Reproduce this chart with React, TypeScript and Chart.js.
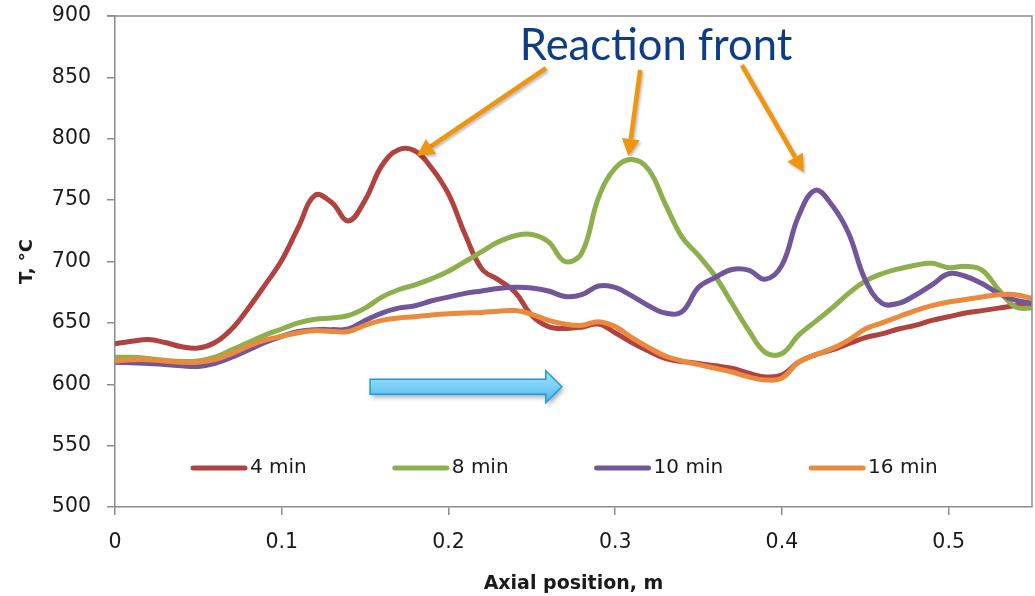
import { useEffect, useRef } from 'react';
import { Chart, registerables } from 'chart.js';

Chart.register(...registerables);

// Axial position along the reactor, m
const positions = [
  0, 0.01, 0.02, 0.03, 0.04, 0.05, 0.06, 0.07, 0.08, 0.09,
  0.1, 0.11, 0.12, 0.13, 0.14, 0.15, 0.16, 0.17, 0.18, 0.19,
  0.2, 0.21, 0.22, 0.23, 0.24, 0.25, 0.26, 0.27, 0.28, 0.29,
  0.3, 0.31, 0.32, 0.33, 0.34, 0.35, 0.36, 0.37, 0.38, 0.39,
  0.4, 0.41, 0.42, 0.43, 0.44, 0.45, 0.46, 0.47, 0.48, 0.49,
  0.5, 0.51, 0.52, 0.53, 0.54, 0.55,
];

// Bed temperature profiles, °C
const temp4min = [
  633, 635, 636.5, 634, 630.5, 629.5, 634, 645, 662, 681,
  701, 728, 754, 748, 733, 750, 778, 791, 790, 776,
  755, 722, 694, 685, 675, 656, 647, 645.5, 646.5, 649,
  642, 634, 627, 621, 618.5, 617, 615, 613, 609, 606,
  607.5, 618, 624, 628, 633, 638, 641, 645, 648, 652,
  655, 658, 660, 662, 664, 665,
];
const temp8min = [
  622, 622, 621, 619.5, 618.5, 619, 622, 628, 634, 640,
  645, 650, 653, 654, 656, 662, 671, 677, 681, 686,
  692, 700, 708, 716, 721, 722, 716, 700, 707, 752,
  776, 783, 775, 747, 720, 705, 688, 666, 644, 626,
  625, 640, 651, 662, 674, 684, 690, 694, 697, 698.5,
  695, 696, 693, 677, 663, 662,
];
const temp10min = [
  618, 617.5, 617, 616, 615, 614.5, 617, 622, 628, 634,
  639, 643, 644.5, 644.5, 645, 652, 658, 662, 664, 668,
  671, 674, 676, 678, 679, 678.5, 676, 671.5, 673, 680,
  679, 672, 664, 658, 659, 679, 687, 693.5, 693, 685.5,
  697, 737, 758, 746, 723, 685, 666, 666, 672.5, 681,
  690, 688, 682, 674, 668.5, 666,
];
const temp16min = [
  619, 620, 620, 619, 618, 618, 620, 625, 631, 636,
  639, 642, 643.5, 643, 643, 648, 652, 654, 655, 656.5,
  657.5, 658, 658.5, 659.5, 660, 657, 652, 649, 648, 651,
  647, 638, 630, 623, 619, 616, 613, 610, 606, 603.5,
  605, 618, 624, 629, 636, 645, 650, 655, 660, 664,
  667, 669, 671, 673, 673, 670,
];

const seriesNames = ['4 min', '8 min', '10 min', '16 min'];
const seriesValues = [temp4min, temp8min, temp10min, temp16min];
const seriesColors = ['#B0433F', '#8DB04C', '#71579A', '#EB8A3C'];

const yTicks = { min: 500, max: 900, step: 50 };
const xTicks = { min: 0, max: 0.55, step: 0.1 };

// Annotation anchors, in axis units (x in m, y in °C)
const labelAnchor = { x: 0.3245, y: 864, text: 'Reaction front' };
const frontArrows = [
  { from: [0.2585, 857.5], to: [0.181, 786] },
  { from: [0.315, 856], to: [0.308, 786] },
  { from: [0.376, 860], to: [0.413, 773] },
];
const flowArrow = { from: [0.153, 598], to: [0.268, 598] };

const TEXT = '#1a1a1a';
const AXIS = '#8c8c8c';

function drawOrangeArrow(ctx: CanvasRenderingContext2D, x0: number, y0: number, x1: number, y1: number) {
  const ang = Math.atan2(y1 - y0, x1 - x0);
  const headLen = 17;
  const headHalf = 9;
  const bx = x1 - headLen * Math.cos(ang);
  const by = y1 - headLen * Math.sin(ang);
  ctx.save();
  ctx.shadowColor = 'rgba(0,0,0,0.28)';
  ctx.shadowBlur = 3;
  ctx.shadowOffsetX = 1.5;
  ctx.shadowOffsetY = 2;
  ctx.strokeStyle = '#F0950E';
  ctx.fillStyle = '#F0950E';
  ctx.lineWidth = 4.5;
  ctx.lineCap = 'butt';
  ctx.beginPath();
  ctx.moveTo(x0, y0);
  ctx.lineTo(bx, by);
  ctx.stroke();
  ctx.beginPath();
  ctx.moveTo(x1, y1);
  ctx.lineTo(bx + headHalf * Math.sin(ang), by - headHalf * Math.cos(ang));
  ctx.lineTo(bx - headHalf * Math.sin(ang), by + headHalf * Math.cos(ang));
  ctx.closePath();
  ctx.fill();
  ctx.restore();
}

function drawBlockArrow(ctx: CanvasRenderingContext2D, x0: number, yc: number, x1: number) {
  const bodyHalf = 7.5;
  const headHalf = 16;
  const headLen = 16;
  const hx = x1 - headLen;
  ctx.save();
  ctx.beginPath();
  ctx.moveTo(x0, yc - bodyHalf);
  ctx.lineTo(hx, yc - bodyHalf);
  ctx.lineTo(hx, yc - headHalf);
  ctx.lineTo(x1, yc);
  ctx.lineTo(hx, yc + headHalf);
  ctx.lineTo(hx, yc + bodyHalf);
  ctx.lineTo(x0, yc + bodyHalf);
  ctx.closePath();
  const g = ctx.createLinearGradient(0, yc - headHalf, 0, yc + headHalf);
  g.addColorStop(0, '#A6E0FC');
  g.addColorStop(0.5, '#7CCFF8');
  g.addColorStop(1, '#45B6EE');
  ctx.shadowColor = 'rgba(0,0,0,0.35)';
  ctx.shadowBlur = 5;
  ctx.shadowOffsetX = 2;
  ctx.shadowOffsetY = 3;
  ctx.fillStyle = g;
  ctx.fill();
  ctx.shadowColor = 'transparent';
  ctx.lineWidth = 1.5;
  ctx.strokeStyle = '#1E9CDA';
  ctx.stroke();
  ctx.restore();
}

const decorations = {
  id: 'decorations',
  afterDraw(chart: any) {
    const { ctx, chartArea, scales } = chart;
    const sx = scales.x;
    const sy = scales.y;

    // frame: top and right edges of the plot area
    ctx.save();
    ctx.strokeStyle = AXIS;
    ctx.lineWidth = 1.5;
    ctx.beginPath();
    ctx.moveTo(chartArea.left - 8, chartArea.top);
    ctx.lineTo(chartArea.right, chartArea.top);
    ctx.lineTo(chartArea.right, chartArea.bottom);
    ctx.stroke();
    ctx.restore();

    // legend inside the plot area
    ctx.save();
    ctx.font = '20px "DejaVu Sans"';
    ctx.textBaseline = 'middle';
    ctx.textAlign = 'left';
    const ly = chartArea.bottom - 39;
    let lx = chartArea.left + 78;
    seriesNames.forEach((name, i) => {
      ctx.strokeStyle = seriesColors[i];
      ctx.lineWidth = 5;
      ctx.lineCap = 'round';
      ctx.beginPath();
      ctx.moveTo(lx, ly);
      ctx.lineTo(lx + 52, ly);
      ctx.stroke();
      ctx.fillStyle = TEXT;
      ctx.fillText(name, lx + 57, ly);
      lx += 57 + ctx.measureText(name).width + 88;
    });
    ctx.restore();

    // flow direction arrow
    drawBlockArrow(
      ctx,
      sx.getPixelForValue(flowArrow.from[0]),
      sy.getPixelForValue(flowArrow.from[1]),
      sx.getPixelForValue(flowArrow.to[0]),
    );

    // reaction front label and pointers
    ctx.save();
    ctx.font = '43.5px Lato';
    ctx.fillStyle = '#0E3D86';
    ctx.textAlign = 'center';
    ctx.textBaseline = 'alphabetic';
    ctx.fillText(labelAnchor.text, sx.getPixelForValue(labelAnchor.x), sy.getPixelForValue(labelAnchor.y));
    ctx.restore();
    frontArrows.forEach((a) => {
      drawOrangeArrow(
        ctx,
        sx.getPixelForValue(a.from[0]),
        sy.getPixelForValue(a.from[1]),
        sx.getPixelForValue(a.to[0]),
        sy.getPixelForValue(a.to[1]),
      );
    });
  },
};

export default function App() {
  const canvasRef = useRef<HTMLCanvasElement | null>(null);

  useEffect(() => {
    const canvas = canvasRef.current;
    if (!canvas) return;
    const datasets = seriesNames.map((name, i) => ({
      label: name,
      data: positions.map((x, j) => ({ x, y: seriesValues[i][j] })),
      borderColor: seriesColors[i],
      backgroundColor: seriesColors[i],
      borderWidth: 5,
      pointRadius: 0,
      tension: 0.4,
      fill: false,
      order: seriesNames.length - i,
    }));

    const chart = new Chart(canvas, {
      type: 'line',
      data: { datasets },
      options: {
        animation: false,
        responsive: false,
        devicePixelRatio: 1,
        events: [],
        layout: { padding: { left: 0, top: 16, right: 3, bottom: 0 } },
        plugins: {
          legend: { display: false },
          tooltip: { enabled: false },
        },
        scales: {
          x: {
            type: 'linear',
            min: xTicks.min,
            max: xTicks.max,
            afterFit(scale: any) {
              scale.height = 89;
              scale.paddingLeft = 0;
              scale.paddingRight = 0;
            },
            ticks: {
              stepSize: xTicks.step,
              includeBounds: false,
              padding: 15,
              color: TEXT,
              font: { family: 'DejaVu Sans', size: 20.5 },
              maxRotation: 0,
              callback: (v: any) => String(Number(Number(v).toFixed(2))),
            },
            grid: { drawOnChartArea: false, drawTicks: true, tickLength: 8, color: AXIS, lineWidth: 1.5 },
            border: { display: true, color: AXIS, width: 1.5 },
            title: {
              display: true,
              text: 'Axial position, m',
              color: TEXT,
              font: { family: 'DejaVu Sans', size: 19, weight: 'bold' },
              padding: { top: 0, bottom: 1 },
            },
          },
          y: {
            type: 'linear',
            min: yTicks.min,
            max: yTicks.max,
            afterFit(scale: any) {
              scale.width = 115;
              scale.paddingTop = 0;
              scale.paddingBottom = 0;
            },
            ticks: {
              stepSize: yTicks.step,
              padding: 16,
              color: TEXT,
              font: { family: 'DejaVu Sans', size: 20.5 },
            },
            grid: { drawOnChartArea: false, drawTicks: true, tickLength: 8, color: AXIS, lineWidth: 1.5 },
            border: { display: true, color: AXIS, width: 1.5 },
            title: {
              display: true,
              text: 'T, °C',
              color: TEXT,
              font: { family: 'DejaVu Sans', size: 18, weight: 'bold' },
              padding: { top: 17, bottom: 0 },
            },
          },
        },
      },
      plugins: [decorations],
    } as any);

    return () => chart.destroy();
  }, []);

  return (
    <div style={{ position: 'absolute', left: 0, top: 0, width: 1035, height: 596, background: '#fff' }}>
      <canvas ref={canvasRef} width={1035} height={596} />
    </div>
  );
}
